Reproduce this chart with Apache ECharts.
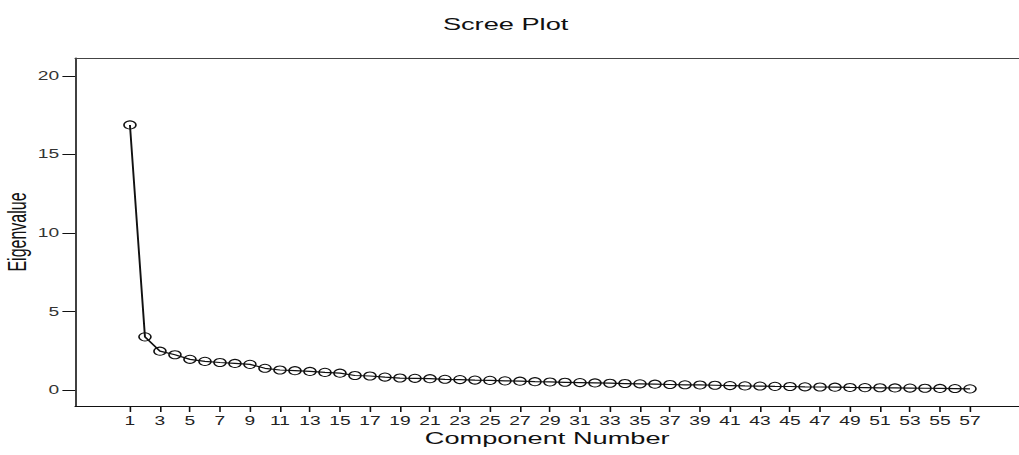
<!DOCTYPE html>
<html>
<head>
<meta charset="utf-8">
<script src="https://cdn.jsdelivr.net/npm/echarts@6/dist/echarts.min.js"></script>
<style>
  html, body { margin: 0; padding: 0; background: #fff; overflow: hidden; }
  #c { width: 637px; height: 455px; transform: scaleX(1.6); transform-origin: 0 0; }
</style>
</head>
<body>
<div id="c"></div>
<script>
const components = Array.from({length: 57}, (_, i) => i + 1);
const eigenvalues = [
  16.87, 3.38, 2.47, 2.24, 1.95, 1.82, 1.75, 1.69, 1.63, 1.38,
  1.27, 1.23, 1.18, 1.12, 1.07, 0.92, 0.89, 0.82, 0.76, 0.74,
  0.72, 0.68, 0.66, 0.63, 0.61, 0.58, 0.56, 0.53, 0.51, 0.49,
  0.47, 0.45, 0.43, 0.41, 0.39, 0.37, 0.35, 0.33, 0.32, 0.30,
  0.28, 0.26, 0.25, 0.23, 0.22, 0.20, 0.19, 0.18, 0.16, 0.15,
  0.14, 0.13, 0.12, 0.11, 0.10, 0.09, 0.07
];
const xTicks = [1,3,5,7,9,11,13,15,17,19,21,23,25,27,29,31,33,35,37,39,41,43,45,47,49,51,53,55,57];
const yTicks = [0, 5, 10, 15, 20];

const chart = echarts.init(document.getElementById('c'), null, {renderer: 'svg'});
const txt = '#222';
chart.setOption({
  animation: false,
  backgroundColor: '#fff',
  title: {
    text: 'Scree Plot',
    left: 311, top: 11, textAlign: 'center',
    textStyle: {fontFamily: 'Liberation Sans', fontSize: 17, fontWeight: 'normal', color: '#111'}
  },
  grid: {left: 47, right: 0, top: 58, bottom: 49, containLabel: false, outerBoundsMode: 'none'},
  xAxis: [{
    type: 'value', min: -2.65, max: 60.28,
    name: 'Component Number', nameLocation: 'middle', nameGap: 24, nameMoveOverlap: false,
    nameTextStyle: {fontFamily: 'Liberation Sans', fontSize: 17, color: '#111'},
    axisLine: {show: true, onZero: false, lineStyle: {color: '#111', width: 1}},
    axisTick: {show: true, length: 6, customValues: xTicks, lineStyle: {color: '#111'}},
    axisLabel: {customValues: xTicks, fontFamily: 'Liberation Sans', fontSize: 12, color: txt, margin: 9},
    splitLine: {show: false}
  }, {
    type: 'value', position: 'top', min: -2.65, max: 60.28,
    axisLine: {show: true, onZero: false, lineStyle: {color: '#444', width: 1}},
    axisTick: {show: false}, axisLabel: {show: false}, splitLine: {show: false}
  }],
  yAxis: {
    type: 'value', min: -1.02, max: 21.13,
    name: 'Eigenvalue', nameLocation: 'middle', nameGap: 28, nameRotate: 90, nameMoveOverlap: false,
    nameTextStyle: {fontFamily: 'Liberation Sans', fontSize: 16, color: '#111'},
    axisLine: {show: true, onZero: false, lineStyle: {color: '#111', width: 1}},
    axisTick: {show: true, length: 8, customValues: yTicks, lineStyle: {color: '#111'}},
    axisLabel: {customValues: yTicks, fontFamily: 'Liberation Sans', fontSize: 12, color: '#333', margin: 10},
    splitLine: {show: false}
  },
  series: [{
    type: 'line',
    data: components.map((c, i) => [c, eigenvalues[i]]),
    symbol: 'circle',
    symbolSize: [7.5, 8],
    lineStyle: {color: '#111', width: 1.2},
    itemStyle: {color: 'rgba(0,0,0,0)', borderColor: '#111', borderWidth: 1},
    z: 3
  }]
});
</script>
</body>
</html>
